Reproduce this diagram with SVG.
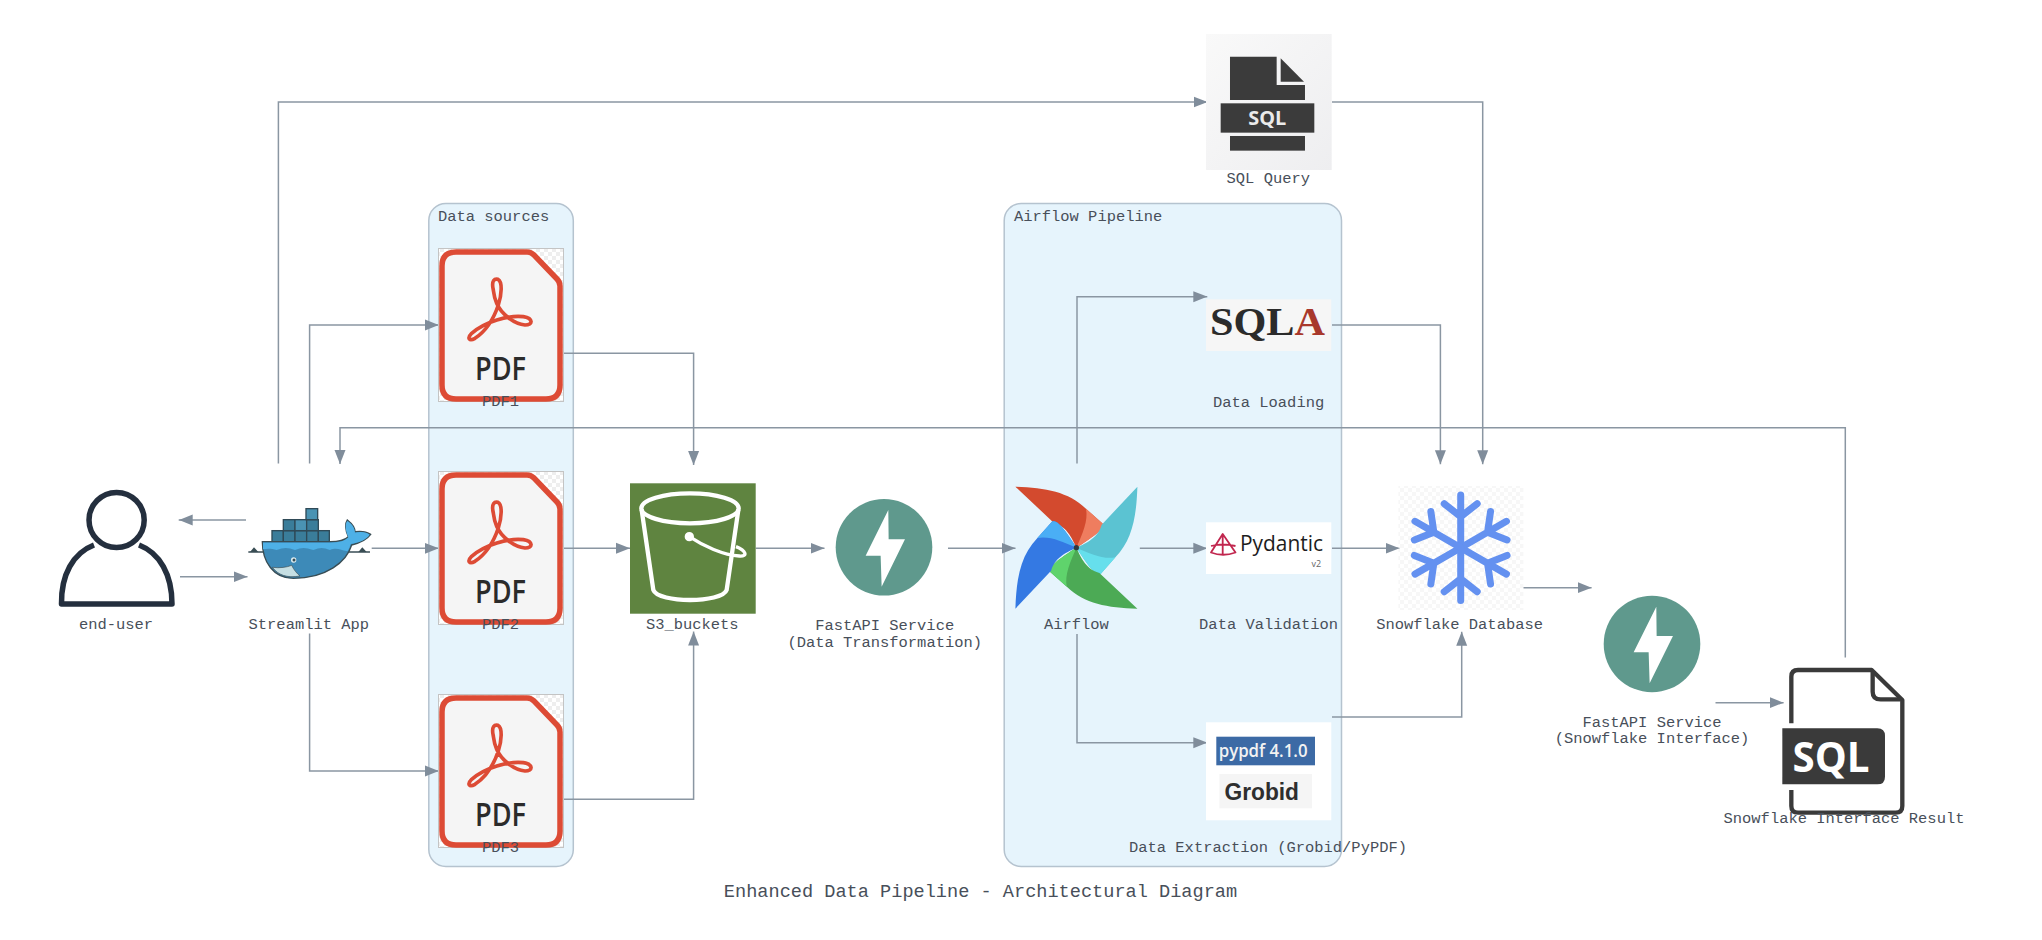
<svg xmlns="http://www.w3.org/2000/svg" xmlns:xlink="http://www.w3.org/1999/xlink" width="2042" height="940" viewBox="0 0 2042 940">
<style>
.lbl{font-family:"Liberation Mono",monospace;font-size:15.45px;fill:#484f5a;text-anchor:middle}
.clbl{font-family:"Liberation Mono",monospace;font-size:15.45px;fill:#484f5a}
.ttl{font-family:"Liberation Mono",monospace;font-size:18.6px;fill:#484f5a;text-anchor:middle}
.cl{fill:#e6f4fc;stroke:#b5c3cf;stroke-width:1.5}
.cn{fill:none;stroke:#8a96a2;stroke-width:1.5;marker-end:url(#ah)}
.lg{font-family:"Open Sans","Liberation Sans",sans-serif}
</style>
<defs>
<marker id="ah" markerUnits="userSpaceOnUse" markerWidth="14" markerHeight="12" refX="14" refY="6" orient="auto"><path d="M0 .5L14 6L0 11.5Z" fill="#808d9b"/></marker>
<pattern id="chk" width="8" height="8" patternUnits="userSpaceOnUse"><rect width="8" height="8" fill="#fff"/><rect width="4" height="4" fill="#eeeeee"/><rect x="4" y="4" width="4" height="4" fill="#eeeeee"/></pattern>
<linearGradient id="sqg" x1="0" y1="0" x2="1" y2="1"><stop offset="0" stop-color="#f9f9f9"/><stop offset="1" stop-color="#eeeef0"/></linearGradient>
<g id="pdficon">
<rect x="438.5" y="248.5" width="125" height="153" fill="url(#chk)" stroke="#c4c4c4" stroke-width="1"/>
<path d="M456 252H527Q531 252 534 255L557 279Q560 282 560 286V385Q560 399 546 399H456Q442 399 442 385V266Q442 252 456 252Z" fill="#f5f5f5" stroke="#dd4b35" stroke-width="5.5"/>
<path transform="translate(430 240) scale(.3333)" d="M190 150C183 120 195 115 204 118C218 125 215 165 205 195C190 240 165 275 135 295C118 305 110 295 125 280C165 245 235 225 280 230C310 235 310 255 285 255C255 252 215 225 200 190C193 175 192 165 190 150Z" fill="none" stroke="#dd4b35" stroke-width="11"/>
<text x="500.5" y="380" class="lg" font-size="32" font-weight="600" fill="#2b2b2b" text-anchor="middle" textLength="51" lengthAdjust="spacingAndGlyphs">PDF</text>
</g>
<g id="fastapi">
<circle cx="884" cy="547.3" r="48.3" fill="#5f998d"/>
<path transform="translate(620 470) scale(.3333)" d="M805 120L737 257H782L785 350L855 208H806Z" fill="#fff"/>
</g>
<g id="arm"><path d="M0 0V-52.8M0-31L-16.5-44M0-31L16.5-44" fill="none" stroke="#6491f0" stroke-width="7" stroke-linecap="round" stroke-linejoin="round"/></g>
<g id="blade"><path d="M-61-61C-31-60-8-56 9.6-39L26.2-24.3C27-20 25-16 0 0C-3-6-8-21-23-25.3Z"/></g>
<g id="bladeL"><path d="M9.6-39L26.2-24.3C27-20 25-16 0 0C6-14 12-27 9.6-39Z"/></g>
</defs>
<rect width="2042" height="940" fill="#fff"/>

<g id="cluster-data-sources"><rect class="cl" x="428.8" y="203.5" width="144.5" height="663" rx="17"/><text class="clbl" x="438" y="221">Data sources</text></g>
<g id="cluster-airflow-pipeline"><rect class="cl" x="1004.2" y="203.5" width="337.3" height="663" rx="17"/><text class="clbl" x="1014" y="221">Airflow Pipeline</text></g>

<g id="connectors">
<path class="cn" d="M278.4 463.5V102H1207.5"/>
<path class="cn" d="M309.6 463.5V325H438.8"/>
<path class="cn" d="M1845.3 657.5V427.7H340V464"/>
<path class="cn" d="M371.7 548.3H438.8"/>
<path class="cn" d="M246 520H178.7"/>
<path class="cn" d="M180 576.7H247.5"/>
<path class="cn" d="M309.6 633.5V771H438.8"/>
<path class="cn" d="M563.5 353.3H693.6V465"/>
<path class="cn" d="M563.5 548.3H630"/>
<path class="cn" d="M563.5 799.3H693.6V631.5"/>
<path class="cn" d="M755.7 548.3H824.5"/>
<path class="cn" d="M948 548.3H1015.5"/>
<path class="cn" d="M1077 463.5V296.7H1207.3"/>
<path class="cn" d="M1139.8 548.3H1207.3"/>
<path class="cn" d="M1077 634V742.7H1207.3"/>
<path class="cn" d="M1332 325H1440.4V464.3"/>
<path class="cn" d="M1332 102H1482.7V464.3"/>
<path class="cn" d="M1332 548.3H1399.5"/>
<path class="cn" d="M1332 717H1461.7V631.7"/>
<path class="cn" d="M1523.4 587.7H1591.6"/>
<path class="cn" d="M1715.5 702.7H1783.6"/>
</g>

<g id="end-user">
<circle cx="116.6" cy="520" r="27.6" fill="#fff" stroke="#242f3e" stroke-width="5.5"/>
<path d="M94 545C73 553 61 575 61.5 604H172C172 575 160 553 139 545" fill="none" stroke="#242f3e" stroke-width="5.5" stroke-linejoin="round"/>
<text class="lbl" x="116" y="629">end-user</text>
</g>

<g id="streamlit-app">
<g transform="translate(230 490) scale(.3333)">
<path d="M55 186H420" stroke="#394d54" stroke-width="4" fill="none"/>
<path d="M60 186L72 172L85 186ZM385 186L397 172L410 186Z" fill="#394d54"/>
<g fill="#3a7d9a" stroke="#2f4a57" stroke-width="4">
<rect x="126" y="122" width="34" height="34"/><rect x="160" y="122" width="35" height="34"/><rect x="195" y="122" width="35" height="34"/><rect x="230" y="122" width="35" height="34"/><rect x="265" y="122" width="33" height="34"/>
<rect x="160" y="89" width="35" height="33"/><rect x="195" y="89" width="35" height="33" fill="#4a93b3"/><rect x="230" y="89" width="35" height="33"/>
<rect x="228" y="56" width="35" height="33" fill="#4a93b3"/>
</g>
<path d="M97 155H300C330 155 345 150 355 140C345 120 345 100 352 90C365 100 375 115 375 125C395 122 410 125 422 133C410 150 385 160 365 165C350 215 290 265 190 265C130 265 97 215 97 155Z" fill="#3d8ab8" stroke="#394d54" stroke-width="4"/>
<path d="M99 158H300C330 158 345 152 355 142C345 120 345 100 352 93C365 100 375 115 375 128C395 124 410 127 419 134C408 150 385 158 362 162C360 170 357 177 353 183C335 185 325 170 300 180C280 172 270 172 250 180C225 172 215 172 195 180C175 172 160 172 140 180C125 175 110 175 99 178Z" fill="#4eb0e6"/>
<path d="M127 232C150 235 170 232 185 226C192 240 200 250 210 258C170 265 145 255 127 232Z" fill="#c6dfe3" stroke="#394d54" stroke-width="2"/>
<circle cx="191" cy="210" r="8" fill="#dfeef2"/><circle cx="192" cy="210" r="4.5" fill="#394d54"/>
</g>
<text class="lbl" x="308.8" y="629">Streamlit App</text>
</g>

<g id="pdf1"><use href="#pdficon"/><text class="lbl" x="500.5" y="406">PDF1</text></g>
<g id="pdf2"><use href="#pdficon" transform="translate(0 223)"/><text class="lbl" x="500.5" y="629">PDF2</text></g>
<g id="pdf3"><use href="#pdficon" transform="translate(0 446)"/><text class="lbl" x="500.5" y="852">PDF3</text></g>

<g id="s3-buckets">
<rect x="630" y="483.3" width="125.7" height="130.4" fill="#5f8440"/>
<g transform="translate(620 470) scale(.3333)" fill="none" stroke="#fff" stroke-width="13" stroke-linejoin="round">
<ellipse cx="210" cy="115" rx="146" ry="45"/>
<path d="M65 120L100 360C115 400 305 400 320 360L355 120"/>
<circle cx="208" cy="200" r="10" fill="#fff" stroke-width="8"/>
<path d="M208 200C250 228 310 255 358 258C385 260 378 242 348 230" stroke-width="10"/>
</g>
<text class="lbl" x="692.3" y="629.3">S3_buckets</text>
</g>

<g id="fastapi-transform"><use href="#fastapi"/><text class="lbl" x="884.7" y="630">FastAPI Service</text><text class="lbl" x="884.7" y="646.7">(Data Transformation)</text></g>

<g id="airflow">
<g transform="translate(1076.4 547.7)">
<use href="#blade" fill="#d34a2e"/><use href="#bladeL" fill="#ef7d5f"/>
<g transform="rotate(90)"><use href="#blade" fill="#5bc3d2"/><use href="#bladeL" fill="#66dfec"/></g>
<g transform="rotate(180)"><use href="#blade" fill="#4caa55"/><use href="#bladeL" fill="#5fd36c"/></g>
<g transform="rotate(270)"><use href="#blade" fill="#3479e3"/><use href="#bladeL" fill="#4aaef5"/></g>
<circle r="2.6" fill="#33393f"/>
</g>
<text class="lbl" x="1076.4" y="629">Airflow</text>
</g>

<g id="sql-query">
<rect x="1206" y="34" width="125.7" height="136" fill="url(#sqg)"/>
<g transform="translate(1180 20) scale(.3333)" fill="#3b3b3b">
<path d="M150 110H290V195H375V240H150Z"/><path d="M302 115L372 185H302Z"/>
<rect x="122" y="250" width="281" height="88"/><rect x="150" y="348" width="225" height="44"/>
</g>
<text x="1267.3" y="125" class="lg" font-size="20" font-weight="700" fill="#eaeaea" text-anchor="middle" textLength="38" lengthAdjust="spacingAndGlyphs">SQL</text>
<text class="lbl" x="1268.3" y="183.3">SQL Query</text>
</g>

<g id="data-loading">
<rect x="1206" y="299.3" width="125.3" height="51.7" fill="#f6f6f6"/>
<text x="1210" y="335" font-family="Liberation Serif,serif" font-size="40" font-weight="700" fill="#2b2b2b" textLength="115" lengthAdjust="spacingAndGlyphs">SQL<tspan fill="#a8382c">A</tspan></text>
<text class="lbl" x="1268.6" y="406.7">Data Loading</text>
</g>

<g id="data-validation">
<rect x="1206" y="522.3" width="125.3" height="51.7" fill="#fff"/>
<path d="M1222.7 534L1235.5 552.5Q1223 557 1211 552.5ZM1222.7 534V555.5M1211 546Q1222.7 543 1235.5 546" fill="none" stroke="#c1264e" stroke-width="1.8" stroke-linejoin="round"/>
<text x="1240" y="550.7" class="lg" font-size="21" fill="#1d1d1d" textLength="83" lengthAdjust="spacingAndGlyphs">Pydantic</text>
<text x="1311.6" y="566.7" class="lg" font-size="9" fill="#666">v2</text>
<text class="lbl" x="1268.6" y="629">Data Validation</text>
</g>

<g id="data-extraction">
<rect x="1206" y="722.3" width="125.3" height="98" fill="#fff"/>
<rect x="1216.3" y="736.7" width="98.7" height="28.6" fill="#3c6aa5"/>
<text x="1218.7" y="756.7" class="lg" font-size="18" font-weight="600" fill="#f2f2f2" textLength="88.8" lengthAdjust="spacingAndGlyphs">pypdf 4.1.0</text>
<rect x="1219.4" y="774" width="92.6" height="34.3" fill="#f5f5f5"/>
<text x="1224.5" y="800" font-family="Liberation Sans,sans-serif" font-size="23" font-weight="700" fill="#2e2e2e" textLength="74.5" lengthAdjust="spacingAndGlyphs">Grobid</text>
<text class="lbl" x="1268" y="852.3">Data Extraction (Grobid/PyPDF)</text>
</g>

<g id="snowflake-database">
<rect x="1398.4" y="486" width="125" height="124" fill="url(#chk)" opacity=".45"/>
<g transform="translate(1460.7 547.7)">
<use href="#arm"/><use href="#arm" transform="rotate(60)"/><use href="#arm" transform="rotate(120)"/><use href="#arm" transform="rotate(180)"/><use href="#arm" transform="rotate(240)"/><use href="#arm" transform="rotate(300)"/>
</g>
<text class="lbl" x="1459.6" y="628.7">Snowflake Database</text>
</g>

<g id="fastapi-snowflake"><use href="#fastapi" transform="translate(768 96.7)"/><text class="lbl" x="1652" y="726.7">FastAPI Service</text><text class="lbl" x="1652" y="743.4">(Snowflake Interface)</text></g>

<g id="snowflake-result">
<g transform="translate(1770 660) scale(.3333)">
<path d="M64 190V50Q64 30 84 30H305L397 120V438Q397 458 377 458H84Q64 458 64 438V390" fill="none" stroke="#3a3a3a" stroke-width="13" stroke-linejoin="round"/>
<path d="M308 35V95Q308 118 332 118H392" fill="none" stroke="#3a3a3a" stroke-width="13"/>
<path d="M37 205H322Q345 205 345 228V350Q345 373 322 373H37Z" fill="#3a3a3a"/>
</g>
<text x="1792.5" y="771.5" class="lg" font-size="42" font-weight="700" fill="#fff" textLength="77" lengthAdjust="spacingAndGlyphs">SQL</text>
<text class="lbl" x="1844" y="823.3">Snowflake Interface Result</text>
</g>

<g id="title"><text class="ttl" x="980.5" y="896.7">Enhanced Data Pipeline - Architectural Diagram</text></g>
</svg>
